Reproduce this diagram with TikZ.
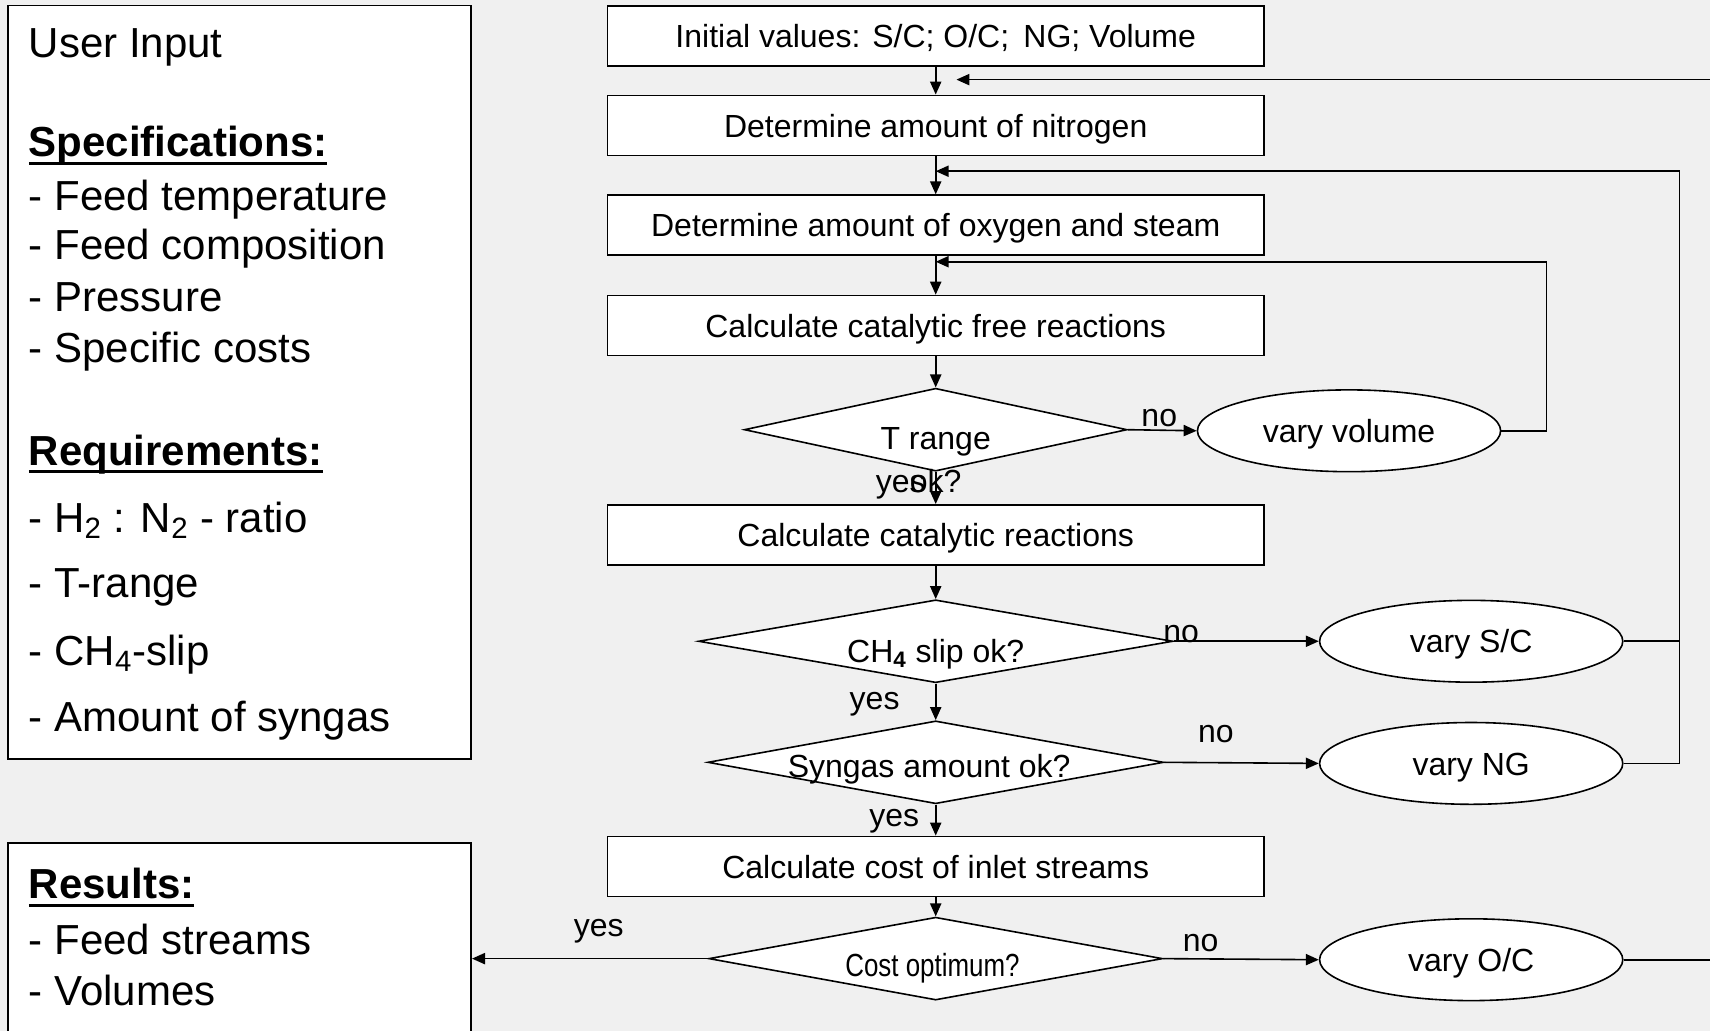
\documentclass[tikz,border=0pt]{standalone}
\usepackage{fontspec}
\setmainfont{Liberation Sans}
\newfontfamily\narrowfont[FakeStretch=0.81]{Liberation Sans}
\usetikzlibrary{shapes.geometric,arrows.meta}
\newdimen\pu \pu=0.5453pt
\newcommand\mainsz{\fontsize{16}{19.2}\selectfont}
\newcommand\bigsz{\fontsize{21}{25}\selectfont}
\newcommand\thickul[1]{\setbox0\hbox{#1}\rlap{\rule[-4.1pt]{\wd0}{1.5pt}}\box0}
\definecolor{bgc}{RGB}{240,240,240}
\tikzset{
  proc/.style={draw, fill=white, line width=0.9pt, minimum width=602\pu, minimum height=55\pu, inner sep=0pt, font=\mainsz, text height=11.7pt, text depth=0pt},
  dec/.style={draw, fill=white, shape=diamond, inner sep=0pt, line width=0.8pt, minimum height=76\pu},
  varn/.style={draw, fill=white, ellipse, minimum width=278\pu, minimum height=75\pu, inner sep=0pt, line width=0.8pt, font=\mainsz, text height=11.7pt, text depth=0pt},
  lbl/.style={inner sep=0pt, font=\mainsz},
  side/.style={draw, fill=white, line width=0.9pt, inner sep=0pt, minimum width=425\pu},
  sidetxt/.style={inner sep=0pt, anchor=base west, font=\bigsz},
  flow/.style={-{Triangle[length=6.5pt,width=5.6pt]}, line width=0.8pt},
  plain/.style={line width=0.8pt}
}
\begin{document}
\begin{tikzpicture}[x=0.5453pt,y=-0.5453pt]
\useasboundingbox (0,0) rectangle (1568,945);
\clip (0,0) rectangle (1568,945);
\fill[bgc] (0,0) rectangle (1568,945);

% left boxes
\node[side, minimum height=691\pu] (ui) at (219.5,350.5) {};
\node[side, minimum height=212\pu] (res) at (219.5,879) {};
\node[sidetxt] (t1) at (26,52.6) {User Input};
\node[sidetxt] (t2) at (26,143.7) {\thickul{\textbf{Specifications:}}};
\node[sidetxt] (t3) at (26,192.6) {- Feed temperature};
\node[sidetxt] (t4) at (26,237.5) {- Feed composition};
\node[sidetxt] (t5) at (26,285.8) {- Pressure};
\node[sidetxt] (t6) at (26,332.6) {- Specific costs};
\node[sidetxt] (t7) at (26,426.4) {\thickul{\textbf{Requirements:}}};
\node[sidetxt] (t8) at (26,488.4) {- H\textsubscript{2} : N\textsubscript{2} - ratio};
\node[sidetxt] (t9) at (26,548) {- T-range};
\node[sidetxt] (t10) at (26,610) {- CH\textsubscript{4}-slip};
\node[sidetxt] (t11) at (26,671) {- Amount of syngas};
\node[sidetxt] (t12) at (26,824) {\thickul{\textbf{Results:}}};
\node[sidetxt] (t13) at (26,875.6) {- Feed streams};
\node[sidetxt] (t14) at (26,921.6) {- Volumes};

% main column
\node[proc] (b1) at (858,33) {Initial values: S/C; O/C;\, NG; Volume};
\node[proc] (b2) at (858,115) {Determine amount of nitrogen};
\node[proc] (b3) at (858,206.5) {Determine amount of oxygen and steam};
\node[proc] (b4) at (858,298.5) {Calculate catalytic free reactions};
\node[dec, minimum width=351\pu] (d1) at (858,394) {};
\node[proc] (b5) at (858,490.5) {Calculate catalytic reactions};
\node[dec, minimum width=435\pu] (d2) at (858,588) {};
\node[dec, minimum width=418\pu] (d3) at (858,699) {};
\node[proc] (b6) at (858,794.5) {Calculate cost of inlet streams};
\node[dec, minimum width=416\pu] (d4) at (858,879) {};

% variation ellipses
\node[varn] (vv) at (1237,395) {vary volume};
\node[varn] (vsc) at (1349,588) {vary S/C};
\node[varn] (vng) at (1349,700) {vary NG};
\node[varn] (voc) at (1349,880) {vary O/C};

% junction coordinates
\coordinate (tr) at (1590,73);
\coordinate (tj) at (877,73);
\coordinate (c2) at (1540,157);
\coordinate (j2) at (858,157);
\coordinate (c3) at (1418,240);
\coordinate (j3) at (858,240);
\coordinate (redge) at (1590,880);

% main flow
\draw[flow] (b1.south) -- (b2.north);
\draw[flow] (b2.south) -- (b3.north);
\draw[flow] (b3.south) -- (b4.north);
\draw[flow] (b4.south) -- (d1.north);
\draw[flow] (d1.south) -- (b5.north);
\draw[flow] (b5.south) -- (d2.north);
\draw[flow] (d2.south) -- (d3.north);
\draw[flow] (d3.south) -- (b6.north);
\draw[flow] (b6.south) -- (d4.north);

% branches
\draw[flow] (d1.east) -- (vv.west);
\draw[flow] (d2.east) -- (vsc.west);
\draw[flow] (d3.east) -- (vng.west);
\draw[flow] (d4.east) -- (voc.west);
\draw[flow] (d4.west) -- (d4.west -| res.east);

% feedback loops
\draw[flow] (vv.east) -| (c3) -- (j3);
\draw[plain] (vsc.east) -- (vsc.east -| c2);
\draw[flow] (vng.east) -| (c2) -- (j2);
\draw[plain] (voc.east) -- (redge);
\draw[flow] (tr) -- (tj);

% labels
\node[lbl] (l1a) at (858,405) {T range};
\node[lbl] (l1b) at (858,441) {ok?};
\node[lbl] (y1) at (826,447) {yes};
\node[lbl] (n1) at (1063,383) {no};
\node[lbl] (l2) at (858,600) {CH\textsubscript{\textbf{4}} slip ok?};
\node[lbl] (n2) at (1083,581) {no};
\node[lbl] (y2) at (802,646) {yes};
\node[lbl] (l3) at (852,705) {Syngas amount ok?};
\node[lbl] (n3) at (1115,673) {no};
\node[lbl] (y3) at (820,753) {yes};
\node[lbl, font=\mainsz\narrowfont] (l4) at (855,888) {Cost optimum?};
\node[lbl] (n4) at (1101,865) {no};
\node[lbl] (y4) at (549,854) {yes};
\end{tikzpicture}
\end{document}
